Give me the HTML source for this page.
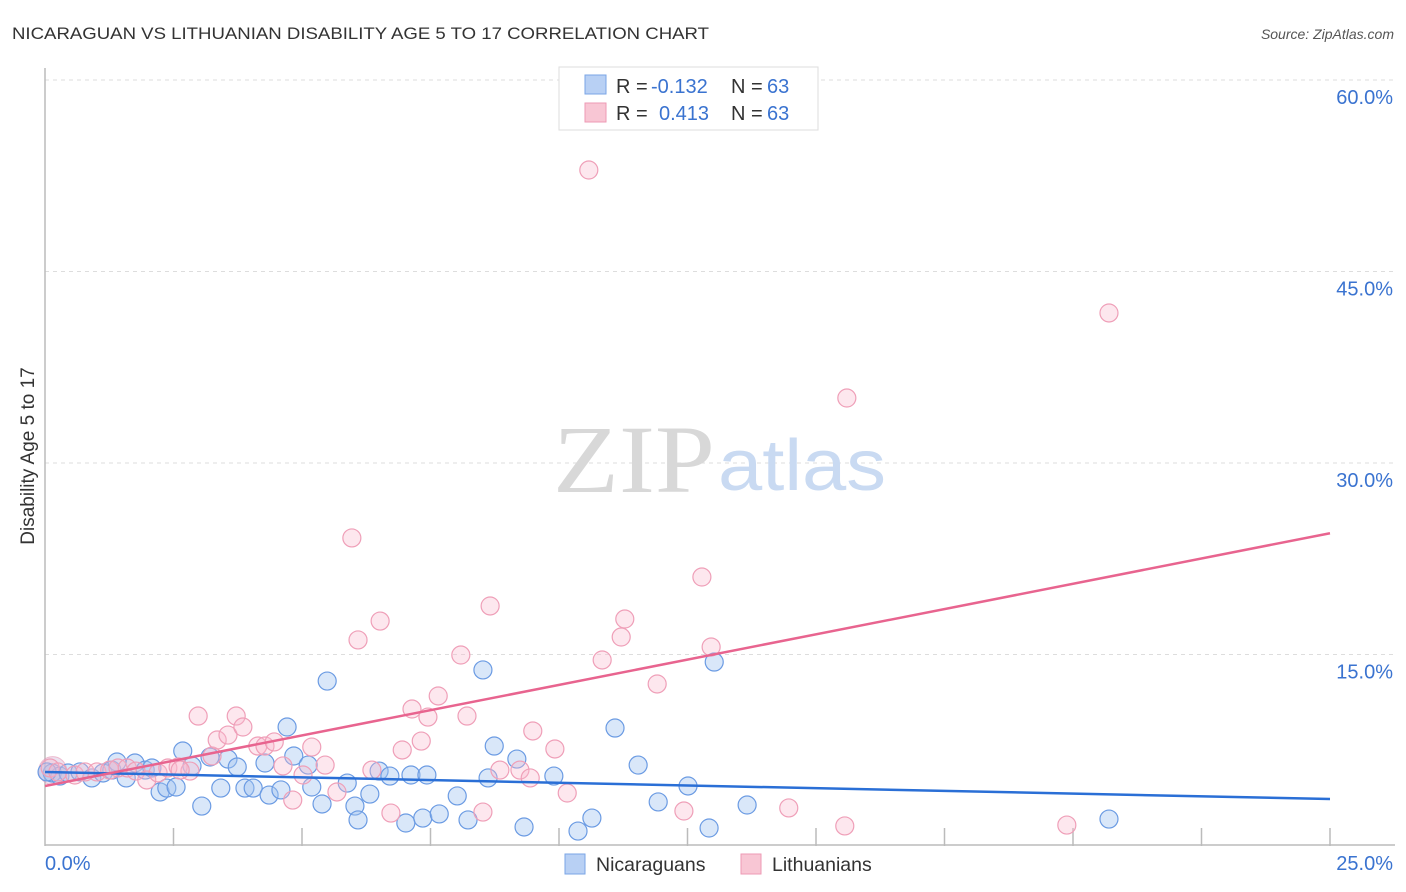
<!DOCTYPE html>
<html><head><meta charset="utf-8">
<style>
html,body{margin:0;padding:0;background:#fff;}
svg{display:block;font-family:"Liberation Sans",sans-serif;}
</style></head>
<body>
<svg id="chart" width="1406" height="892" viewBox="0 0 1406 892">
  <text x="12" y="39" font-size="17" fill="#333" textLength="697" lengthAdjust="spacingAndGlyphs">NICARAGUAN VS LITHUANIAN DISABILITY AGE 5 TO 17 CORRELATION CHART</text>
  <text x="1394" y="39" font-size="14" fill="#555" font-style="italic" text-anchor="end">Source: ZipAtlas.com</text>
  <g id="grid"></g>
  <g>
    <text x="553" y="492" font-family="Liberation Serif,serif" font-size="96" fill="#d8d8d8" textLength="162" lengthAdjust="spacingAndGlyphs">ZIP</text>
    <text x="718" y="490" font-size="72" fill="#c9daf2" textLength="168" lengthAdjust="spacingAndGlyphs">atlas</text>
  </g>
  <g id="axes"></g>
  <g id="points"></g>
  <g id="lines"></g>
  <text x="34" y="456" font-size="19" fill="#333" text-anchor="middle" transform="rotate(-90 34 456)">Disability Age 5 to 17</text>
  <g>
    <rect x="559" y="67" width="259" height="63" fill="#fff" stroke="#ddd"/>
    <rect x="585" y="75" width="21" height="19" fill="#b8d0f4" stroke="#7aa5e6"/>
    <rect x="585" y="103" width="21" height="19" fill="#f8c6d4" stroke="#ee9ab4"/>
    <text x="616" y="93" font-size="20" fill="#333">R =</text>
    <text x="651" y="93" font-size="20" fill="#3a73d0">-0.132</text>
    <text x="731" y="93" font-size="20" fill="#333">N =</text>
    <text x="767" y="93" font-size="20" fill="#3a73d0">63</text>
    <text x="616" y="120" font-size="20" fill="#333">R =</text>
    <text x="659" y="120" font-size="20" fill="#3a73d0">0.413</text>
    <text x="731" y="120" font-size="20" fill="#333">N =</text>
    <text x="767" y="120" font-size="20" fill="#3a73d0">63</text>
  </g>
  <g>
    <rect x="565" y="854" width="20" height="20" fill="#b8d0f4" stroke="#7aa5e6"/>
    <text x="596" y="871" font-size="19.5" fill="#333">Nicaraguans</text>
    <rect x="741" y="854" width="20" height="20" fill="#f8c6d4" stroke="#ee9ab4"/>
    <text x="772" y="871" font-size="19.5" fill="#333">Lithuanians</text>
  </g>
</svg>
<script>
const yTicks=[15,30,45,60];
const yTickLabels=["15.0%","30.0%","45.0%","60.0%"];
const xTickVals=[2.5,5,7.5,10,12.5,15,17.5,20,22.5,25];
const xLabels=["0.0%","25.0%"];
const blueX=[0.14,0.29,0.45,0.68,0.91,1.13,1.30,1.40,1.58,1.75,1.95,2.08,2.24,2.37,2.55,2.68,2.86,3.05,3.21,3.42,3.56,3.74,3.89,4.05,4.28,4.36,4.59,4.71,4.84,5.12,5.19,5.39,5.49,5.88,6.03,6.09,6.32,6.50,6.71,7.02,7.12,7.35,7.43,7.67,8.02,8.23,8.52,8.62,8.74,9.18,9.32,9.90,10.37,10.64,11.09,11.54,11.93,12.51,12.92,13.02,13.66,20.70,0.04];
const blueY=[5.72,5.48,5.72,5.80,5.33,5.72,5.95,6.58,5.33,6.50,5.95,6.11,4.23,4.54,4.62,7.44,6.27,3.13,6.97,4.54,6.81,6.19,4.54,4.54,6.50,3.99,4.39,9.32,7.05,6.34,4.62,3.29,12.92,4.93,3.13,2.04,4.07,5.87,5.48,1.80,5.56,2.19,5.56,2.51,3.92,2.04,13.79,5.33,7.83,6.81,1.49,5.48,1.17,2.19,9.24,6.34,3.45,4.70,1.41,14.41,3.21,2.11,5.80];
const pinkX=[0.10,0.25,0.58,0.78,1.01,1.26,1.42,1.60,1.77,1.98,2.20,2.39,2.59,2.82,2.98,3.25,3.35,3.56,3.72,3.85,4.14,4.28,4.46,4.63,4.82,5.02,5.19,5.45,5.68,5.97,6.09,6.36,6.52,6.73,6.95,7.14,7.32,7.45,7.65,8.09,8.21,8.52,8.66,8.85,9.24,9.44,9.49,9.92,10.16,10.58,10.84,11.21,11.28,11.91,12.43,12.78,12.96,14.47,15.56,15.60,19.88,20.70,2.63];
const pinkY=[6.11,5.80,5.56,5.80,5.80,5.95,6.11,6.11,5.87,5.17,5.72,6.11,6.19,5.87,10.18,7.05,8.30,8.69,10.18,9.32,7.83,7.83,8.15,6.27,3.60,5.56,7.75,6.34,4.23,24.13,16.14,5.95,17.62,2.58,7.52,10.73,8.22,10.10,11.75,14.96,10.18,2.66,18.80,5.95,5.95,5.33,9.01,7.60,4.15,52.95,14.57,16.37,17.78,12.69,2.74,21.07,15.59,2.98,1.57,35.09,1.64,41.75,5.95];
const blueLine=[5.8,3.68];
const pinkLine=[4.7,24.5];

const NS="http://www.w3.org/2000/svg";
const X0=45,X1=1330,Y0=846,YPX=191.5/15;
function sx(v){return X0+(v/25)*(X1-X0);}
function sy(v){return Y0-v*YPX;}
function mk(tag,attrs,parent){const e=document.createElementNS(NS,tag);for(const k in attrs)e.setAttribute(k,attrs[k]);parent.appendChild(e);return e;}
const grid=document.getElementById('grid'),axes=document.getElementById('axes'),pts=document.getElementById('points'),lines=document.getElementById('lines');
yTicks.forEach((t,i)=>{
  const l=mk('line',{x1:X0,x2:1395,y1:sy(t),y2:sy(t),stroke:'#ddd','stroke-dasharray':'4,4'},grid);
  
  
  const tx=mk('text',{x:1393,y:sy(t)+24,'font-size':20,fill:'#3a73d0','text-anchor':'end'},grid);
  tx.textContent=yTickLabels[i];
  
  
});
const la=mk('line',{x1:X0,x2:X0,y1:68,y2:Y0,stroke:'#bbb','stroke-width':1.5},axes);


const ba=mk('line',{x1:X0,x2:1395,y1:Y0-1,y2:Y0-1,stroke:'#bbb','stroke-width':1.5},axes);


xTickVals.forEach(v=>{
  const t=mk('line',{x1:sx(v),x2:sx(v),y1:828,y2:Y0,stroke:'#bbb','stroke-width':1.5},axes);
  
  
});
const xl0=mk('text',{x:45,y:870,'font-size':20,fill:'#3a73d0'},axes);xl0.textContent=xLabels[0];


const xl1=mk('text',{x:1393,y:870,'font-size':20,fill:'#3a73d0','text-anchor':'end'},axes);xl1.textContent=xLabels[1];


function series(xs,ys,fill,stroke,name){
  xs.forEach((x,i)=>{
    const c=mk('circle',{cx:sx(x),cy:sy(ys[i]),r:9,fill:fill,stroke:stroke,'stroke-width':1.2},pts);
    
    
  });
}
const big=mk('circle',{cx:sx(0.15),cy:sy(5.9),r:14,fill:'rgba(200,170,210,0.35)',stroke:'rgba(230,150,180,0.6)'},pts);


series(blueX,blueY,'rgba(160,195,240,0.4)','#6b9be3','nicaraguan');
series(pinkX,pinkY,'rgba(248,185,205,0.35)','#ef9fb8','lithuanian');
const bl=mk('line',{x1:sx(0),y1:sy(blueLine[0]),x2:sx(25),y2:sy(blueLine[1]),stroke:'#2a6fd6','stroke-width':2.5},lines);


const pl=mk('line',{x1:sx(0),y1:sy(pinkLine[0]),x2:sx(25),y2:sy(pinkLine[1]),stroke:'#e8648f','stroke-width':2.5},lines);


</script>
</body></html>
